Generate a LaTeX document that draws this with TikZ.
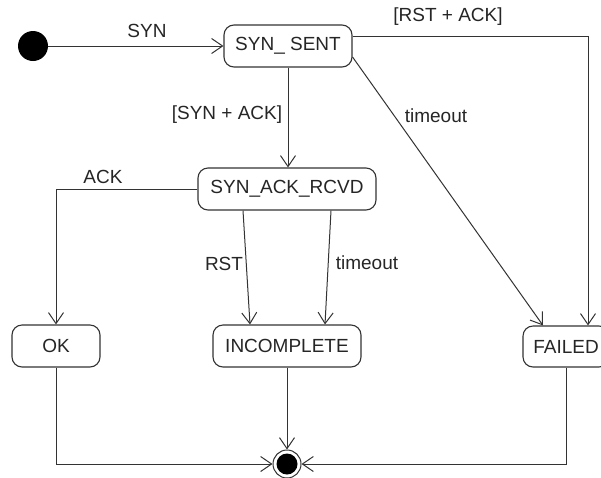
\documentclass[tikz,border=0pt]{standalone}
\usepackage{fontspec}
\setmainfont{Liberation Sans}
\usetikzlibrary{arrows.meta}
\begin{document}
\begin{tikzpicture}[x=1pt,y=-1pt,
  every node/.style={font=\fontsize{19}{21}\selectfont, text=black!85},
  state/.style={draw=black!80, line width=1.1pt, rounded corners=10pt, inner sep=0pt, minimum height=42pt},
  lbl/.style={inner sep=0pt},
  arr/.style={draw=black!80, line width=1pt, -{Straight Barb[length=11pt,width=15pt,line width=1pt]}}]
\clip (0,0) rectangle (601,477);
\fill[white] (0,0) rectangle (601,477);

% states
\node[circle, fill=black, minimum size=30pt, inner sep=0pt] (init) at (33,46) {};
\node[state, minimum width=128pt] (synsent) at (288,46) {SYN\_ SENT};
\node[state, minimum width=178pt] (synack) at (287,189) {SYN\_ACK\_RCVD};
\node[state, minimum width=88pt] (ok) at (56,346) {OK};
\node[state, minimum width=148pt] (incomplete) at (287,346) {INCOMPLETE};
\node[state, minimum width=86pt, minimum height=41pt] (failed) at (566,346.5) {FAILED};
\node[circle, draw=black!80, line width=1pt, minimum size=28pt, inner sep=0pt] (final) at (287,464) {};
\fill[black] (final.center) circle (10.5pt);

% transitions
\draw[arr] (init) -- (synsent);
\draw[arr] (synsent.south) -- (synsent.south |- synack.north);
\draw[arr] ([yshift=10pt]synsent.east) -| ([xshift=22pt]failed.north);
\draw[arr] ([yshift=-11pt]synsent.east) -- ([xshift=-23pt]failed.north);
\draw[arr] (synack.west) -| (ok.north);
\draw[arr] ([xshift=-44pt]synack.south) -- ([xshift=-37pt]incomplete.north);
\draw[arr] ([xshift=44pt]synack.south) -- ([xshift=38pt]incomplete.north);
\draw[arr] (incomplete.south) -- (final.north);
\draw[arr] (ok.south) |- (final.west);
\draw[arr] (failed.south) |- (final.east);

% labels
\node[lbl] (lsyn) at (147,31) {SYN};
\node[lbl] (lsynack) at (227,115) {[SYN + ACK]};
\node[lbl] (lrstack) at (448,17) {[RST + ACK]};
\node[lbl] (ltimeout1) at (436,116) {timeout};
\node[lbl] (lack) at (103,177) {ACK};
\node[lbl] (lrst) at (224,264) {RST};
\node[lbl] (ltimeout2) at (367,263) {timeout};
\end{tikzpicture}
\end{document}
